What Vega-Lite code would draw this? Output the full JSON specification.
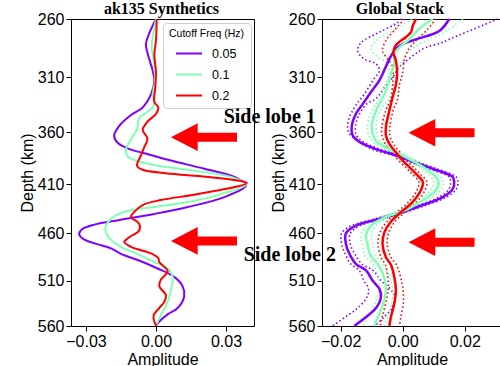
{
  "$schema": "https://vega.github.io/schema/vega-lite/v6.json",
  "padding": {"left": 18, "top": 0, "right": 0, "bottom": 0},
  "background": "white",
  "spacing": 68,
  "bounds": "flush",
  "resolve": {"scale": {"color": "independent", "x": "independent", "y": "independent"}, "legend": {"color": "independent"}},
  "config": {
    "view": {"stroke": "black", "strokeWidth": 1},
    "axis": {"labelFont": "Liberation Sans", "labelFontSize": 16, "labelColor": "black", "titleFont": "Liberation Sans", "titleFontSize": 16, "titleFontWeight": "normal", "titleColor": "black", "tickColor": "black", "tickSize": 5, "domain": false, "grid": false, "labelPadding": 2, "titlePadding": 2},
    "title": {"font": "Liberation Serif", "fontSize": 16, "fontWeight": "bold", "color": "black", "offset": -6}
  },
  "datasets": {
    "syn": [
      {"f":"0.05","d":260,"a":0},{"f":"0.05","d":272,"a":-0.0029},{"f":"0.05","d":281,"a":-0.0043},{"f":"0.05","d":291,"a":-0.0033},{"f":"0.05","d":304,"a":-0.0014},{"f":"0.05","d":313,"a":-0.0007},{"f":"0.05","d":325,"a":-0.0021},{"f":"0.05","d":337,"a":-0.0057},{"f":"0.05","d":344,"a":-0.0107},{"f":"0.05","d":354,"a":-0.0157},{"f":"0.05","d":363,"a":-0.0179},{"f":"0.05","d":370,"a":-0.0164},{"f":"0.05","d":376,"a":-0.0114},{"f":"0.05","d":380,"a":-0.005},{"f":"0.05","d":387,"a":0.0064},{"f":"0.05","d":395,"a":0.0207},{"f":"0.05","d":403,"a":0.0336},{"f":"0.05","d":411,"a":0.0386},{"f":"0.05","d":423,"a":0.0293},{"f":"0.05","d":433,"a":0.0136},{"f":"0.05","d":440,"a":-0.0007},{"f":"0.05","d":446,"a":-0.015},{"f":"0.05","d":451,"a":-0.0264},{"f":"0.05","d":456,"a":-0.0318},{"f":"0.05","d":461,"a":-0.0329},{"f":"0.05","d":466,"a":-0.031},{"f":"0.05","d":471,"a":-0.0255},{"f":"0.05","d":476,"a":-0.019},{"f":"0.05","d":482,"a":-0.0145},{"f":"0.05","d":488,"a":-0.0078},{"f":"0.05","d":497,"a":0.0007},{"f":"0.05","d":506,"a":0.0078},{"f":"0.05","d":516,"a":0.0114},{"f":"0.05","d":527,"a":0.0121},{"f":"0.05","d":540,"a":0.0093},{"f":"0.05","d":547,"a":0.005},{"f":"0.05","d":555,"a":0.0014},{"f":"0.05","d":560,"a":0},
      {"f":"0.1","d":260,"a":0},{"f":"0.1","d":275,"a":-0.0014},{"f":"0.1","d":284,"a":-0.0018},{"f":"0.1","d":295,"a":-0.001},{"f":"0.1","d":313,"a":-0.0004},{"f":"0.1","d":325,"a":-0.0014},{"f":"0.1","d":335,"a":-0.0009},{"f":"0.1","d":341,"a":-0.0036},{"f":"0.1","d":347,"a":-0.0072},{"f":"0.1","d":357,"a":-0.0081},{"f":"0.1","d":366,"a":-0.0105},{"f":"0.1","d":377,"a":-0.0129},{"f":"0.1","d":383,"a":-0.0121},{"f":"0.1","d":388,"a":-0.0073},{"f":"0.1","d":392,"a":0.0007},{"f":"0.1","d":396,"a":0.0136},{"f":"0.1","d":403,"a":0.0321},{"f":"0.1","d":410,"a":0.0386},{"f":"0.1","d":420,"a":0.0279},{"f":"0.1","d":428,"a":0.0136},{"f":"0.1","d":433,"a":-0.0007},{"f":"0.1","d":438,"a":-0.0136},{"f":"0.1","d":445,"a":-0.0193},{"f":"0.1","d":455,"a":-0.0217},{"f":"0.1","d":465,"a":-0.02},{"f":"0.1","d":474,"a":-0.015},{"f":"0.1","d":481,"a":-0.0086},{"f":"0.1","d":490,"a":-0.0007},{"f":"0.1","d":497,"a":0.005},{"f":"0.1","d":506,"a":0.0072},{"f":"0.1","d":520,"a":0.0064},{"f":"0.1","d":533,"a":0.005},{"f":"0.1","d":548,"a":0.0021},{"f":"0.1","d":557,"a":0.0004},{"f":"0.1","d":560,"a":0},
      {"f":"0.2","d":260,"a":0.0003},{"f":"0.2","d":278,"a":0},{"f":"0.2","d":290,"a":-0.0007},{"f":"0.2","d":305,"a":0},{"f":"0.2","d":319,"a":-0.0003},{"f":"0.2","d":332,"a":-0.0007},{"f":"0.2","d":337,"a":0.001},{"f":"0.2","d":343,"a":0},{"f":"0.2","d":350,"a":-0.0036},{"f":"0.2","d":358,"a":-0.0057},{"f":"0.2","d":366,"a":-0.0036},{"f":"0.2","d":374,"a":-0.005},{"f":"0.2","d":382,"a":-0.0064},{"f":"0.2","d":392,"a":-0.0081},{"f":"0.2","d":396,"a":-0.0057},{"f":"0.2","d":399.4,"a":0.0043},{"f":"0.2","d":402.8,"a":0.0214},{"f":"0.2","d":406.2,"a":0.0343},{"f":"0.2","d":409,"a":0.039},{"f":"0.2","d":420,"a":0.0179},{"f":"0.2","d":426,"a":0.0021},{"f":"0.2","d":431,"a":-0.0057},{"f":"0.2","d":438,"a":-0.0093},{"f":"0.2","d":443,"a":-0.0107},{"f":"0.2","d":450,"a":-0.0072},{"f":"0.2","d":457,"a":-0.0072},{"f":"0.2","d":464,"a":-0.0114},{"f":"0.2","d":469,"a":-0.0136},{"f":"0.2","d":474,"a":-0.0107},{"f":"0.2","d":481,"a":-0.0021},{"f":"0.2","d":486,"a":0.001},{"f":"0.2","d":490,"a":0.0014},{"f":"0.2","d":500,"a":0.005},{"f":"0.2","d":509,"a":0.0021},{"f":"0.2","d":516,"a":0.0014},{"f":"0.2","d":526,"a":0.0043},{"f":"0.2","d":533,"a":0.0036},{"f":"0.2","d":540,"a":0.0014},{"f":"0.2","d":548,"a":-0.001},{"f":"0.2","d":555,"a":-0.0007},{"f":"0.2","d":560,"a":0.0002}
    ],
    "gm": [
      {"f":"0.05","d":260,"a":0.015},{"f":"0.05","d":270,"a":0.0118},{"f":"0.05","d":277,"a":0.0043},{"f":"0.05","d":281,"a":0},{"f":"0.05","d":285,"a":-0.0022},{"f":"0.05","d":290,"a":-0.0035},{"f":"0.05","d":295,"a":-0.0045},{"f":"0.05","d":304,"a":-0.006},{"f":"0.05","d":313,"a":-0.0076},{"f":"0.05","d":323,"a":-0.0102},{"f":"0.05","d":334,"a":-0.0129},{"f":"0.05","d":343,"a":-0.0151},{"f":"0.05","d":354,"a":-0.0164},{"f":"0.05","d":363,"a":-0.0161},{"f":"0.05","d":369,"a":-0.014},{"f":"0.05","d":376,"a":-0.0086},{"f":"0.05","d":382,"a":-0.0022},{"f":"0.05","d":388,"a":0.0032},{"f":"0.05","d":395,"a":0.0097},{"f":"0.05","d":403,"a":0.0161},{"f":"0.05","d":408,"a":0.0166},{"f":"0.05","d":415,"a":0.0161},{"f":"0.05","d":423,"a":0.0129},{"f":"0.05","d":431,"a":0.0065},{"f":"0.05","d":438,"a":0},{"f":"0.05","d":445,"a":-0.0075},{"f":"0.05","d":452,"a":-0.0151},{"f":"0.05","d":460,"a":-0.0183},{"f":"0.05","d":471,"a":-0.0183},{"f":"0.05","d":481,"a":-0.0172},{"f":"0.05","d":492,"a":-0.0151},{"f":"0.05","d":499,"a":-0.0118},{"f":"0.05","d":510,"a":-0.0097},{"f":"0.05","d":519,"a":-0.0075},{"f":"0.05","d":528,"a":-0.007},{"f":"0.05","d":540,"a":-0.0086},{"f":"0.05","d":550,"a":-0.0118},{"f":"0.05","d":560,"a":-0.0156},
      {"f":"0.1","d":260,"a":0.0097},{"f":"0.1","d":268,"a":0.0054},{"f":"0.1","d":277,"a":0.0021},{"f":"0.1","d":284,"a":-0.0011},{"f":"0.1","d":290,"a":-0.0027},{"f":"0.1","d":298,"a":-0.0027},{"f":"0.1","d":307,"a":-0.0038},{"f":"0.1","d":317,"a":-0.0048},{"f":"0.1","d":325,"a":-0.0059},{"f":"0.1","d":337,"a":-0.0081},{"f":"0.1","d":349,"a":-0.0097},{"f":"0.1","d":358,"a":-0.0099},{"f":"0.1","d":368,"a":-0.0086},{"f":"0.1","d":376,"a":-0.0043},{"f":"0.1","d":384,"a":0.0011},{"f":"0.1","d":393,"a":0.0065},{"f":"0.1","d":403,"a":0.0107},{"f":"0.1","d":408,"a":0.0116},{"f":"0.1","d":416,"a":0.0107},{"f":"0.1","d":426,"a":0.0065},{"f":"0.1","d":436,"a":0.0011},{"f":"0.1","d":443,"a":-0.0054},{"f":"0.1","d":452,"a":-0.0102},{"f":"0.1","d":462,"a":-0.0118},{"f":"0.1","d":472,"a":-0.0113},{"f":"0.1","d":483,"a":-0.0104},{"f":"0.1","d":492,"a":-0.0081},{"f":"0.1","d":502,"a":-0.0065},{"f":"0.1","d":516,"a":-0.0054},{"f":"0.1","d":531,"a":-0.0059},{"f":"0.1","d":546,"a":-0.0075},{"f":"0.1","d":560,"a":-0.0092},
      {"f":"0.2","d":260,"a":0.0043},{"f":"0.2","d":266,"a":0.0032},{"f":"0.2","d":271,"a":0.0027},{"f":"0.2","d":275,"a":0.0011},{"f":"0.2","d":282,"a":-0.0022},{"f":"0.2","d":288,"a":-0.003},{"f":"0.2","d":295,"a":-0.0022},{"f":"0.2","d":306,"a":-0.0018},{"f":"0.2","d":317,"a":-0.0022},{"f":"0.2","d":325,"a":-0.003},{"f":"0.2","d":340,"a":-0.0043},{"f":"0.2","d":355,"a":-0.0054},{"f":"0.2","d":363,"a":-0.0054},{"f":"0.2","d":371,"a":-0.0043},{"f":"0.2","d":379,"a":-0.0022},{"f":"0.2","d":387,"a":0},{"f":"0.2","d":395,"a":0.0027},{"f":"0.2","d":400,"a":0.0043},{"f":"0.2","d":408,"a":0.0065},{"f":"0.2","d":416,"a":0.0059},{"f":"0.2","d":428,"a":0.0032},{"f":"0.2","d":438,"a":-0.0005},{"f":"0.2","d":448,"a":-0.0038},{"f":"0.2","d":459,"a":-0.0059},{"f":"0.2","d":471,"a":-0.0065},{"f":"0.2","d":485,"a":-0.0054},{"f":"0.2","d":493,"a":-0.0038},{"f":"0.2","d":506,"a":-0.0027},{"f":"0.2","d":520,"a":-0.0022},{"f":"0.2","d":535,"a":-0.0027},{"f":"0.2","d":550,"a":-0.0038},{"f":"0.2","d":560,"a":-0.0043}
    ],
    "gb": [
      {"f":"0.05","k":"lo","d":260,"a":-0.0005},{"f":"0.05","k":"lo","d":263,"a":-0.0016},{"f":"0.05","k":"lo","d":271,"a":-0.0075},{"f":"0.05","k":"lo","d":280,"a":-0.0135},{"f":"0.05","k":"lo","d":287,"a":-0.0145},{"f":"0.05","k":"lo","d":294,"a":-0.0124},{"f":"0.05","k":"lo","d":298,"a":-0.0086},{"f":"0.05","k":"lo","d":304,"a":-0.0075},{"f":"0.05","k":"lo","d":311,"a":-0.0092},{"f":"0.05","k":"lo","d":325,"a":-0.0124},{"f":"0.05","k":"lo","d":335,"a":-0.0151},{"f":"0.05","k":"lo","d":343,"a":-0.0167},{"f":"0.05","k":"lo","d":352,"a":-0.0177},{"f":"0.05","k":"lo","d":360,"a":-0.0174},{"f":"0.05","k":"lo","d":366,"a":-0.0156},{"f":"0.05","k":"lo","d":376,"a":-0.0099},{"f":"0.05","k":"lo","d":382,"a":-0.0033},{"f":"0.05","k":"lo","d":388,"a":0.002},{"f":"0.05","k":"lo","d":395,"a":0.0085},{"f":"0.05","k":"lo","d":403,"a":0.0149},{"f":"0.05","k":"lo","d":408,"a":0.0154},{"f":"0.05","k":"lo","d":415,"a":0.0149},{"f":"0.05","k":"lo","d":423,"a":0.0117},{"f":"0.05","k":"lo","d":431,"a":0.0053},{"f":"0.05","k":"lo","d":438,"a":-0.0012},{"f":"0.05","k":"lo","d":445,"a":-0.0088},{"f":"0.05","k":"lo","d":452,"a":-0.0165},{"f":"0.05","k":"lo","d":460,"a":-0.0197},{"f":"0.05","k":"lo","d":471,"a":-0.0197},{"f":"0.05","k":"lo","d":481,"a":-0.0186},{"f":"0.05","k":"lo","d":492,"a":-0.0168},{"f":"0.05","k":"lo","d":499,"a":-0.014},{"f":"0.05","k":"lo","d":510,"a":-0.0125},{"f":"0.05","k":"lo","d":519,"a":-0.011},{"f":"0.05","k":"lo","d":528,"a":-0.0115},{"f":"0.05","k":"lo","d":540,"a":-0.0145},{"f":"0.05","k":"lo","d":550,"a":-0.0185},{"f":"0.05","k":"lo","d":560,"a":-0.0226},
      {"f":"0.05","k":"hi","d":260,"a":0.0307},{"f":"0.05","k":"hi","d":271,"a":0.0204},{"f":"0.05","k":"hi","d":277,"a":0.015},{"f":"0.05","k":"hi","d":280,"a":0.0124},{"f":"0.05","k":"hi","d":284,"a":0.0075},{"f":"0.05","k":"hi","d":288,"a":0.0048},{"f":"0.05","k":"hi","d":295,"a":0.0014},{"f":"0.05","k":"hi","d":301,"a":-0.0011},{"f":"0.05","k":"hi","d":310,"a":-0.0032},{"f":"0.05","k":"hi","d":319,"a":-0.0059},{"f":"0.05","k":"hi","d":329,"a":-0.0086},{"f":"0.05","k":"hi","d":334,"a":-0.0117},{"f":"0.05","k":"hi","d":343,"a":-0.0139},{"f":"0.05","k":"hi","d":354,"a":-0.0152},{"f":"0.05","k":"hi","d":363,"a":-0.0149},{"f":"0.05","k":"hi","d":369,"a":-0.0128},{"f":"0.05","k":"hi","d":376,"a":-0.0073},{"f":"0.05","k":"hi","d":382,"a":-0.0011},{"f":"0.05","k":"hi","d":388,"a":0.0044},{"f":"0.05","k":"hi","d":395,"a":0.0109},{"f":"0.05","k":"hi","d":403,"a":0.0173},{"f":"0.05","k":"hi","d":408,"a":0.0178},{"f":"0.05","k":"hi","d":415,"a":0.0173},{"f":"0.05","k":"hi","d":423,"a":0.0141},{"f":"0.05","k":"hi","d":431,"a":0.0077},{"f":"0.05","k":"hi","d":438,"a":0.0012},{"f":"0.05","k":"hi","d":445,"a":-0.0062},{"f":"0.05","k":"hi","d":452,"a":-0.0137},{"f":"0.05","k":"hi","d":460,"a":-0.0169},{"f":"0.05","k":"hi","d":471,"a":-0.0169},{"f":"0.05","k":"hi","d":481,"a":-0.0155},{"f":"0.05","k":"hi","d":492,"a":-0.0132},{"f":"0.05","k":"hi","d":499,"a":-0.0096},{"f":"0.05","k":"hi","d":510,"a":-0.007},{"f":"0.05","k":"hi","d":519,"a":-0.004},{"f":"0.05","k":"hi","d":528,"a":-0.0025},{"f":"0.05","k":"hi","d":540,"a":-0.0035},{"f":"0.05","k":"hi","d":550,"a":-0.006},{"f":"0.05","k":"hi","d":560,"a":-0.009},
      {"f":"0.1","k":"lo","d":260,"a":0.003},{"f":"0.1","k":"lo","d":270,"a":-0.0032},{"f":"0.1","k":"lo","d":278,"a":-0.0086},{"f":"0.1","k":"lo","d":285,"a":-0.0102},{"f":"0.1","k":"lo","d":292,"a":-0.0081},{"f":"0.1","k":"lo","d":298,"a":-0.0048},{"f":"0.1","k":"lo","d":310,"a":-0.0048},{"f":"0.1","k":"lo","d":322,"a":-0.0065},{"f":"0.1","k":"lo","d":329,"a":-0.0075},{"f":"0.1","k":"lo","d":337,"a":-0.0094},{"f":"0.1","k":"lo","d":349,"a":-0.011},{"f":"0.1","k":"lo","d":358,"a":-0.0113},{"f":"0.1","k":"lo","d":368,"a":-0.01},{"f":"0.1","k":"lo","d":376,"a":-0.0058},{"f":"0.1","k":"lo","d":384,"a":-0.0004},{"f":"0.1","k":"lo","d":393,"a":0.005},{"f":"0.1","k":"lo","d":403,"a":0.0091},{"f":"0.1","k":"lo","d":408,"a":0.01},{"f":"0.1","k":"lo","d":416,"a":0.0091},{"f":"0.1","k":"lo","d":426,"a":0.0049},{"f":"0.1","k":"lo","d":436,"a":-0.0005},{"f":"0.1","k":"lo","d":443,"a":-0.007},{"f":"0.1","k":"lo","d":452,"a":-0.0118},{"f":"0.1","k":"lo","d":462,"a":-0.0135},{"f":"0.1","k":"lo","d":472,"a":-0.013},{"f":"0.1","k":"lo","d":483,"a":-0.0122},{"f":"0.1","k":"lo","d":492,"a":-0.0097},{"f":"0.1","k":"lo","d":502,"a":-0.0083},{"f":"0.1","k":"lo","d":516,"a":-0.0075},{"f":"0.1","k":"lo","d":531,"a":-0.0085},{"f":"0.1","k":"lo","d":546,"a":-0.0105},{"f":"0.1","k":"lo","d":560,"a":-0.0128},
      {"f":"0.1","k":"hi","d":260,"a":0.0194},{"f":"0.1","k":"hi","d":270,"a":0.014},{"f":"0.1","k":"hi","d":278,"a":0.0075},{"f":"0.1","k":"hi","d":285,"a":0.0032},{"f":"0.1","k":"hi","d":292,"a":0.0005},{"f":"0.1","k":"hi","d":301,"a":-0.0011},{"f":"0.1","k":"hi","d":313,"a":-0.0027},{"f":"0.1","k":"hi","d":329,"a":-0.0043},{"f":"0.1","k":"hi","d":337,"a":-0.0067},{"f":"0.1","k":"hi","d":349,"a":-0.0083},{"f":"0.1","k":"hi","d":358,"a":-0.0085},{"f":"0.1","k":"hi","d":368,"a":-0.0072},{"f":"0.1","k":"hi","d":376,"a":-0.0028},{"f":"0.1","k":"hi","d":384,"a":0.0026},{"f":"0.1","k":"hi","d":393,"a":0.008},{"f":"0.1","k":"hi","d":403,"a":0.0123},{"f":"0.1","k":"hi","d":408,"a":0.0132},{"f":"0.1","k":"hi","d":416,"a":0.0123},{"f":"0.1","k":"hi","d":426,"a":0.0081},{"f":"0.1","k":"hi","d":436,"a":0.0027},{"f":"0.1","k":"hi","d":443,"a":-0.0038},{"f":"0.1","k":"hi","d":452,"a":-0.0086},{"f":"0.1","k":"hi","d":462,"a":-0.0101},{"f":"0.1","k":"hi","d":472,"a":-0.0096},{"f":"0.1","k":"hi","d":483,"a":-0.0086},{"f":"0.1","k":"hi","d":492,"a":-0.0065},{"f":"0.1","k":"hi","d":502,"a":-0.0047},{"f":"0.1","k":"hi","d":516,"a":-0.0033},{"f":"0.1","k":"hi","d":531,"a":-0.0033},{"f":"0.1","k":"hi","d":546,"a":-0.0045},{"f":"0.1","k":"hi","d":560,"a":-0.006},
      {"f":"0.2","k":"lo","d":260,"a":0.0005},{"f":"0.2","k":"lo","d":268,"a":-0.0022},{"f":"0.2","k":"lo","d":278,"a":-0.0054},{"f":"0.2","k":"lo","d":287,"a":-0.0065},{"f":"0.2","k":"lo","d":294,"a":-0.0048},{"f":"0.2","k":"lo","d":301,"a":-0.0032},{"f":"0.2","k":"lo","d":313,"a":-0.0032},{"f":"0.2","k":"lo","d":329,"a":-0.0038},{"f":"0.2","k":"lo","d":340,"a":-0.0055},{"f":"0.2","k":"lo","d":355,"a":-0.0067},{"f":"0.2","k":"lo","d":363,"a":-0.0067},{"f":"0.2","k":"lo","d":371,"a":-0.0056},{"f":"0.2","k":"lo","d":379,"a":-0.0035},{"f":"0.2","k":"lo","d":387,"a":-0.0013},{"f":"0.2","k":"lo","d":395,"a":0.0014},{"f":"0.2","k":"lo","d":400,"a":0.003},{"f":"0.2","k":"lo","d":408,"a":0.0052},{"f":"0.2","k":"lo","d":416,"a":0.0046},{"f":"0.2","k":"lo","d":428,"a":0.0019},{"f":"0.2","k":"lo","d":438,"a":-0.0018},{"f":"0.2","k":"lo","d":448,"a":-0.0051},{"f":"0.2","k":"lo","d":459,"a":-0.0073},{"f":"0.2","k":"lo","d":471,"a":-0.008},{"f":"0.2","k":"lo","d":485,"a":-0.007},{"f":"0.2","k":"lo","d":493,"a":-0.0056},{"f":"0.2","k":"lo","d":506,"a":-0.0048},{"f":"0.2","k":"lo","d":520,"a":-0.0047},{"f":"0.2","k":"lo","d":535,"a":-0.0055},{"f":"0.2","k":"lo","d":550,"a":-0.0066},{"f":"0.2","k":"lo","d":560,"a":-0.0072},
      {"f":"0.2","k":"hi","d":260,"a":0.0107},{"f":"0.2","k":"hi","d":270,"a":0.0075},{"f":"0.2","k":"hi","d":278,"a":0.0043},{"f":"0.2","k":"hi","d":287,"a":0.0016},{"f":"0.2","k":"hi","d":295,"a":0.0005},{"f":"0.2","k":"hi","d":306,"a":0},{"f":"0.2","k":"hi","d":317,"a":-0.0011},{"f":"0.2","k":"hi","d":329,"a":-0.0016},{"f":"0.2","k":"hi","d":340,"a":-0.0031},{"f":"0.2","k":"hi","d":355,"a":-0.0041},{"f":"0.2","k":"hi","d":363,"a":-0.0041},{"f":"0.2","k":"hi","d":371,"a":-0.003},{"f":"0.2","k":"hi","d":379,"a":-0.0009},{"f":"0.2","k":"hi","d":387,"a":0.0013},{"f":"0.2","k":"hi","d":395,"a":0.004},{"f":"0.2","k":"hi","d":400,"a":0.0056},{"f":"0.2","k":"hi","d":408,"a":0.0078},{"f":"0.2","k":"hi","d":416,"a":0.0072},{"f":"0.2","k":"hi","d":428,"a":0.0045},{"f":"0.2","k":"hi","d":438,"a":0.0008},{"f":"0.2","k":"hi","d":448,"a":-0.0025},{"f":"0.2","k":"hi","d":459,"a":-0.0045},{"f":"0.2","k":"hi","d":471,"a":-0.005},{"f":"0.2","k":"hi","d":485,"a":-0.0038},{"f":"0.2","k":"hi","d":493,"a":-0.002},{"f":"0.2","k":"hi","d":506,"a":-0.0007},{"f":"0.2","k":"hi","d":520,"a":0.0001},{"f":"0.2","k":"hi","d":535,"a":0.0002},{"f":"0.2","k":"hi","d":550,"a":-0.0006},{"f":"0.2","k":"hi","d":560,"a":-0.001}
    ],
    "arrL": [{"a":0.02057,"d":364.7},{"a":0.02057,"d":467.9}],
    "arrR": [{"a":0.01252,"d":360.5},{"a":0.01252,"d":469.2}],
    "lobes": [{"t":"Side lobe 1","a":-0.02797,"d":351.1},{"t":"Side lobe 2","a":-0.02152,"d":489.5}]
  },
  "hconcat": [
    {
      "width": 183,
      "height": 307,
      "title": {"text": "ak135 Synthetics", "dx": -1},
      "encoding": {
        "x": {"field": "a", "type": "quantitative", "scale": {"domain": [-0.0364, 0.042], "nice": false, "zero": false}, "axis": {"values": [-0.03, 0, 0.03], "format": ".2f", "title": "Amplitude"}},
        "y": {"field": "d", "type": "quantitative", "scale": {"type": "pow", "exponent": 0.6, "domain": [260, 560], "reverse": true, "nice": false, "zero": false}, "axis": {"values": [260, 310, 360, 410, 460, 510, 560], "title": "Depth (km)"}}
      },
      "layer": [
        {"mark": {"type": "rule", "color": "black", "strokeDash": [1.5, 1.5], "strokeWidth": 1.2}, "encoding": {"x": {"datum": 0}, "y": null}},
        {
          "data": {"name": "syn"},
          "mark": {"type": "line", "interpolate": "catmull-rom", "strokeWidth": 2},
          "encoding": {
            "color": {"field": "f", "type": "nominal", "scale": {"domain": ["0.05", "0.1", "0.2"], "range": ["#8000ff", "#80ffb4", "#ff0000"]},
              "legend": {"title": "Cutoff Freq (Hz)", "orient": "none", "legendX": 92, "legendY": 4, "titleFont": "Liberation Sans", "titleFontSize": 10.5, "titleFontWeight": "normal", "titleColor": "black", "labelFont": "Liberation Sans", "labelFontSize": 12.5, "labelColor": "black", "symbolType": "stroke", "symbolStrokeWidth": 2, "symbolSize": 676, "symbolOffset": 6, "labelOffset": 9, "padding": 6, "fillColor": "white", "strokeColor": "#cccccc", "cornerRadius": 4, "rowPadding": -10, "titlePadding": 0}},
            "order": {"field": "d", "type": "quantitative"}
          }
        },
        {
          "data": {"name": "arrL"},
          "mark": {"type": "point", "shape": "M-1,0 L-0.19,-0.42 L-0.19,-0.135 L1,-0.135 L1,0.135 L-0.19,0.135 L-0.19,0.42 Z", "filled": true, "size": 4356, "color": "#ff0000", "opacity": 1, "strokeWidth": 0}
        }
      ]
    },
    {
      "width": 180,
      "height": 307,
      "title": {"text": "Global Stack", "dx": -12},
      "encoding": {
        "x": {"field": "a", "type": "quantitative", "scale": {"domain": [-0.026, 0.032], "nice": false, "zero": false}, "axis": {"values": [-0.02, 0, 0.02], "format": ".2f", "title": "Amplitude"}},
        "y": {"field": "d", "type": "quantitative", "scale": {"type": "pow", "exponent": 0.6, "domain": [260, 560], "reverse": true, "nice": false, "zero": false}, "axis": {"values": [260, 310, 360, 410, 460, 510, 560], "title": "Depth (km)"}}
      },
      "layer": [
        {"mark": {"type": "rule", "color": "black", "strokeDash": [1.5, 1.5], "strokeWidth": 1.2}, "encoding": {"x": {"datum": 0}, "y": null}},
        {
          "data": {"name": "gb"},
          "mark": {"type": "line", "interpolate": "catmull-rom", "strokeWidth": 1.6, "strokeDash": [1.5, 2.5]},
          "encoding": {
            "color": {"field": "f", "type": "nominal", "scale": {"domain": ["0.05", "0.1", "0.2"], "range": ["#8000ff", "#80ffb4", "#ff0000"]}, "legend": null},
            "detail": {"field": "k"},
            "order": {"field": "d", "type": "quantitative"}
          }
        },
        {
          "data": {"name": "gm"},
          "mark": {"type": "line", "interpolate": "catmull-rom", "strokeWidth": 2.5},
          "encoding": {
            "color": {"field": "f", "type": "nominal", "scale": {"domain": ["0.05", "0.1", "0.2"], "range": ["#8000ff", "#80ffb4", "#ff0000"]}, "legend": null},
            "order": {"field": "d", "type": "quantitative"}
          }
        },
        {
          "data": {"name": "arrR"},
          "mark": {"type": "point", "shape": "M-1,0 L-0.19,-0.42 L-0.19,-0.135 L1,-0.135 L1,0.135 L-0.19,0.135 L-0.19,0.42 Z", "filled": true, "size": 4356, "color": "#ff0000", "opacity": 1, "strokeWidth": 0}
        },
        {
          "data": {"name": "lobes"},
          "mark": {"type": "text", "font": "Liberation Serif", "fontWeight": "bold", "fontSize": 20, "align": "right", "baseline": "alphabetic", "color": "black"},
          "encoding": {"text": {"field": "t"}}
        }
      ]
    }
  ]
}
